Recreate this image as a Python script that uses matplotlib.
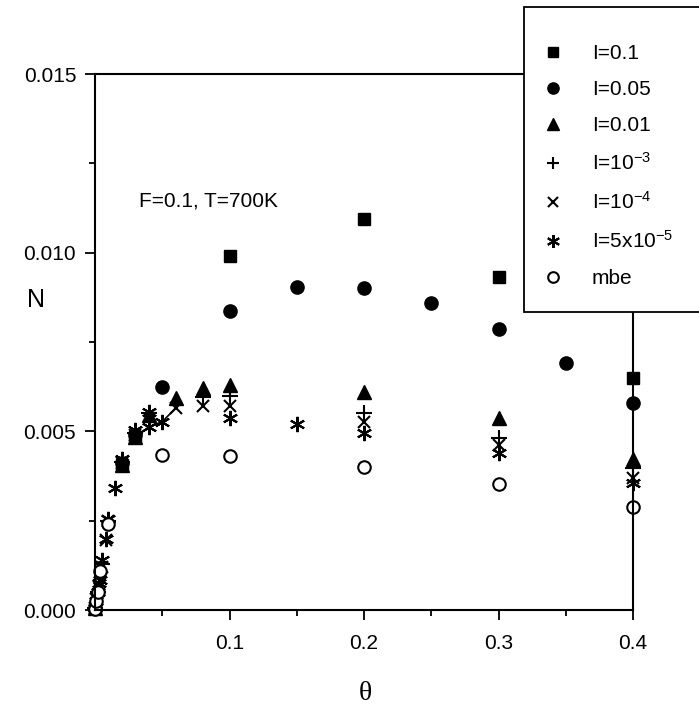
import matplotlib.pyplot as plt
from matplotlib.patches import Rectangle
from matplotlib.ticker import MultipleLocator, FormatStrFormatter

plt.rcParams['font.family'] = ['Liberation Sans', 'DejaVu Sans']
plt.rcParams['mathtext.fontset'] = 'custom'
plt.rcParams['mathtext.rm'] = 'Liberation Sans'
plt.rcParams['mathtext.default'] = 'regular'

# theta values and N (x 1e-3)
theta_01 = [0.0002, 0.02, 0.03, 0.1, 0.2, 0.3, 0.4]
n_01 = [0.05, 4.05, 4.85, 9.92, 10.95, 9.33, 6.5]

theta_005 = [0.0002, 0.02, 0.03, 0.05, 0.1, 0.15, 0.2, 0.25, 0.3, 0.35, 0.4]
n_005 = [0.05, 4.1, 4.9, 6.24, 8.37, 9.05, 9.02, 8.6, 7.85, 6.92, 5.8]

theta_001 = [0.0002, 0.02, 0.03, 0.04, 0.06, 0.08, 0.1, 0.2, 0.3, 0.4]
n_001 = [0.05, 4.05, 4.85, 5.46, 5.93, 6.2, 6.3, 6.1, 5.38, 4.23]

theta_1e3 = [0.0002, 0.002, 0.005, 0.01, 0.02, 0.03, 0.04, 0.08, 0.1, 0.2, 0.3, 0.4]
n_1e3 = [0.05, 0.5, 1.3, 2.5, 4.15, 4.95, 5.5, 5.95, 5.98, 5.52, 4.82, 3.98]

theta_1e4 = [0.0002, 0.001, 0.003, 0.005, 0.008, 0.01, 0.02, 0.03, 0.06, 0.08, 0.1, 0.2, 0.3, 0.4]
n_1e4 = [0.05, 0.3, 0.65, 1.2, 1.95, 2.5, 4.1, 4.9, 5.65, 5.72, 5.7, 5.27, 4.62, 3.7]

theta_5e5 = [0.0002, 0.001, 0.002, 0.003, 0.004, 0.005, 0.008, 0.01, 0.015, 0.02, 0.03,
             0.04, 0.04, 0.05, 0.1, 0.15, 0.2, 0.3, 0.4]
n_5e5 = [0.05, 0.25, 0.5, 0.75, 0.85, 1.4, 2.0, 2.55, 3.42, 4.23, 5.05,
         5.55, 5.13, 5.27, 5.38, 5.21, 4.96, 4.4, 3.55]

theta_mbe = [0.0002, 0.001, 0.002, 0.004, 0.01, 0.05, 0.1, 0.2, 0.3, 0.4]
n_mbe = [0.03, 0.25, 0.5, 1.1, 2.4, 4.34, 4.32, 4.0, 3.53, 2.88]

# short connecting line near theta = 0.03-0.06
theta_line = [0.03, 0.04, 0.05, 0.06]
n_line = [4.82, 5.13, 5.27, 5.65]

labels = ['I=0.1', 'I=0.05', 'I=0.01', 'I=10$^{-3}$', 'I=10$^{-4}$',
          'I=5x10$^{-5}$', 'mbe']

W, H = 699, 706
fig = plt.figure(figsize=(W / 100, H / 100), dpi=100)
ax = fig.add_axes([95 / W, 1 - 610 / H, 538 / W, 536 / H])

def sc(v):
    return [x * 1e-3 for x in v]

kw = dict(ls='none', color='black', clip_on=False)
ax.plot(theta_line, sc(n_line), color='black', lw=1.2, clip_on=False)
h1, = ax.plot(theta_01, sc(n_01), marker='s', ms=9, **kw)
h2, = ax.plot(theta_005, sc(n_005), marker='o', ms=9.5, **kw)
h3, = ax.plot(theta_001, sc(n_001), marker='^', ms=10, **kw)
h4, = ax.plot(theta_1e3, sc(n_1e3), marker='+', ms=11, mew=1.5, **kw)
h5, = ax.plot(theta_1e4, sc(n_1e4), marker='x', ms=9, mew=1.5, **kw)
h6, = ax.plot(theta_5e5, sc(n_5e5), marker=(6, 2, 0), ms=11, mew=1.5, **kw)
h7, = ax.plot(theta_mbe, sc(n_mbe), marker='o', ms=9, mfc='white', mew=1.5, **kw)

ax.set_xlim(0, 0.4)
ax.set_ylim(0, 0.015)
ax.set_xticks([0.1, 0.2, 0.3, 0.4])
ax.xaxis.set_minor_locator(MultipleLocator(0.05))
ax.yaxis.set_major_locator(MultipleLocator(0.005))
ax.yaxis.set_minor_locator(MultipleLocator(0.0025))
ax.xaxis.set_major_formatter(FormatStrFormatter('%.1f'))
ax.yaxis.set_major_formatter(FormatStrFormatter('%.3f'))
for s in ax.spines.values():
    s.set_linewidth(1.5)
ax.tick_params(which='major', direction='out', length=7.5, width=1.3, labelsize=15)
ax.tick_params(axis='x', which='major', pad=10)
ax.tick_params(axis='y', which='major', pad=6)
ax.tick_params(which='minor', direction='out', length=4, width=1.3)

ax.text(0.033, 0.01145, 'F=0.1, T=700K', fontsize=15, va='center', ha='left')
fig.text(36 / W, 1 - 300 / H, 'N', fontsize=18, ha='center', va='center')
fig.text(365 / W, 1 - 693 / H, 'θ', fontsize=20, ha='center', va='center',
         family='Liberation Serif')

# legend box sticks out past the right edge of the figure
frame = Rectangle((524 / W, 1 - 312 / H), 200 / W, 305 / H, transform=fig.transFigure,
                  facecolor='white', edgecolor='black', lw=1.3, zorder=4)
fig.patches.append(frame)
leg = fig.legend([h1, h2, h3, h4, h5, h6, h7], labels, loc='upper left',
                 bbox_to_anchor=(543 / W, 1 - 44 / H), fontsize=15,
                 frameon=False, borderpad=0, labelspacing=0.82, handlelength=1.0,
                 handletextpad=1.35, borderaxespad=0, markerscale=0.85)
leg.set_zorder(5)

fig.savefig('out.png', dpi=100)
